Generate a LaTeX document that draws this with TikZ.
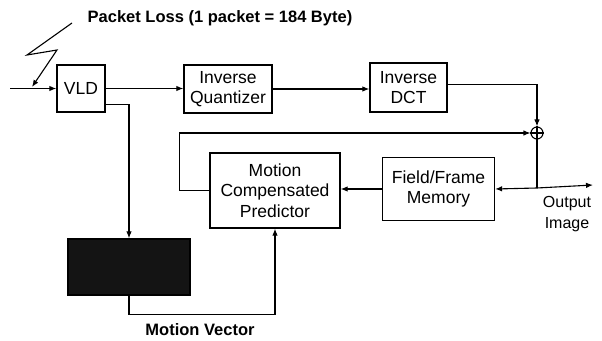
\documentclass[tikz,border=0pt]{standalone}
\usepackage{fontspec}
\setmainfont{Liberation Sans}
\usetikzlibrary{arrows.meta,positioning,calc}
\newcommand{\boxfont}{\fontsize{17.5}{20.5}\selectfont}
\newcommand{\labfont}{\fontsize{16.5}{18}\selectfont\bfseries}

\begin{document}
\begin{tikzpicture}[x=1pt,y=1pt,
    blk/.style={draw, line width=1.3pt, align=center, inner sep=0pt, font=\boxfont},
    arr/.style={-{Latex[length=7pt,width=5.5pt]}, line width=1.1pt},
    ln/.style={line width=1.1pt}]
    \useasboundingbox (0,0) rectangle (602,340);
    \node[blk, minimum width=48, minimum height=47] (vld) at (81,251.5) {VLD};
    \node[blk, minimum width=88, minimum height=48] (iq) at (228,251) {Inverse\\Quantizer};
    \node[blk, minimum width=77, minimum height=49] (idct) at (408.5,252.5) {Inverse\\DCT};
    \node[draw, circle, line width=1.1pt, minimum size=12, inner sep=0pt] (sum) at (537,207) {};
    \draw[line width=1.1pt] (sum.north) -- (sum.south) (sum.west) -- (sum.east);
    \node[blk, minimum width=130, minimum height=75] (mcp) at (275,149.5) {Motion\\Compensated\\Predictor};
    \node[blk, minimum width=112, minimum height=63] (ffm) at (438.5,151) {Field/Frame\\Memory};
    \node[draw, fill=black!92, line width=1.3pt, minimum width=122, minimum height=56] (conc) at (129,73) {};
    \node[font=\labfont] (loss) at (220,322) {Packet Loss (1 packet = 184 Byte)};
    \node[font=\labfont] (mv) at (200,10) {Motion Vector};
    \node[align=center, font=\fontsize{16}{21}\selectfont] (outimg) at (567,126) {Output\\Image};
    \coordinate (in) at (10,251.5);
    \coordinate (tap) at (537,152);
    \coordinate (out) at (593,155);
    \draw[arr] (in) -- (vld);
    \draw[arr] (72,317) -- (27,285) -- (57,290) -- (32,253);
    \draw[arr] (vld.east) -- (vld.east -| iq.west);
    \draw[arr] ([yshift=-16pt]vld.east) -| (conc.north);
    \draw[arr] (iq.east) -- (iq.east -| idct.west);
    \draw[arr] ([yshift=3pt]idct.east) -| (sum.north);
    \draw[arr] (mcp.west) -- ++(-30,0) |- (sum.west);
    \draw[ln] (sum.south) -- (tap);
    \draw[arr] (tap) -- (ffm.east);
    \draw[arr] (tap) -- (out);
    \draw[arr] (ffm.west) -- (ffm.west -| mcp.east);
    \draw[arr] (conc.south) -- ++(0,-19) -| (mcp.south);
\end{tikzpicture}
\end{document}
